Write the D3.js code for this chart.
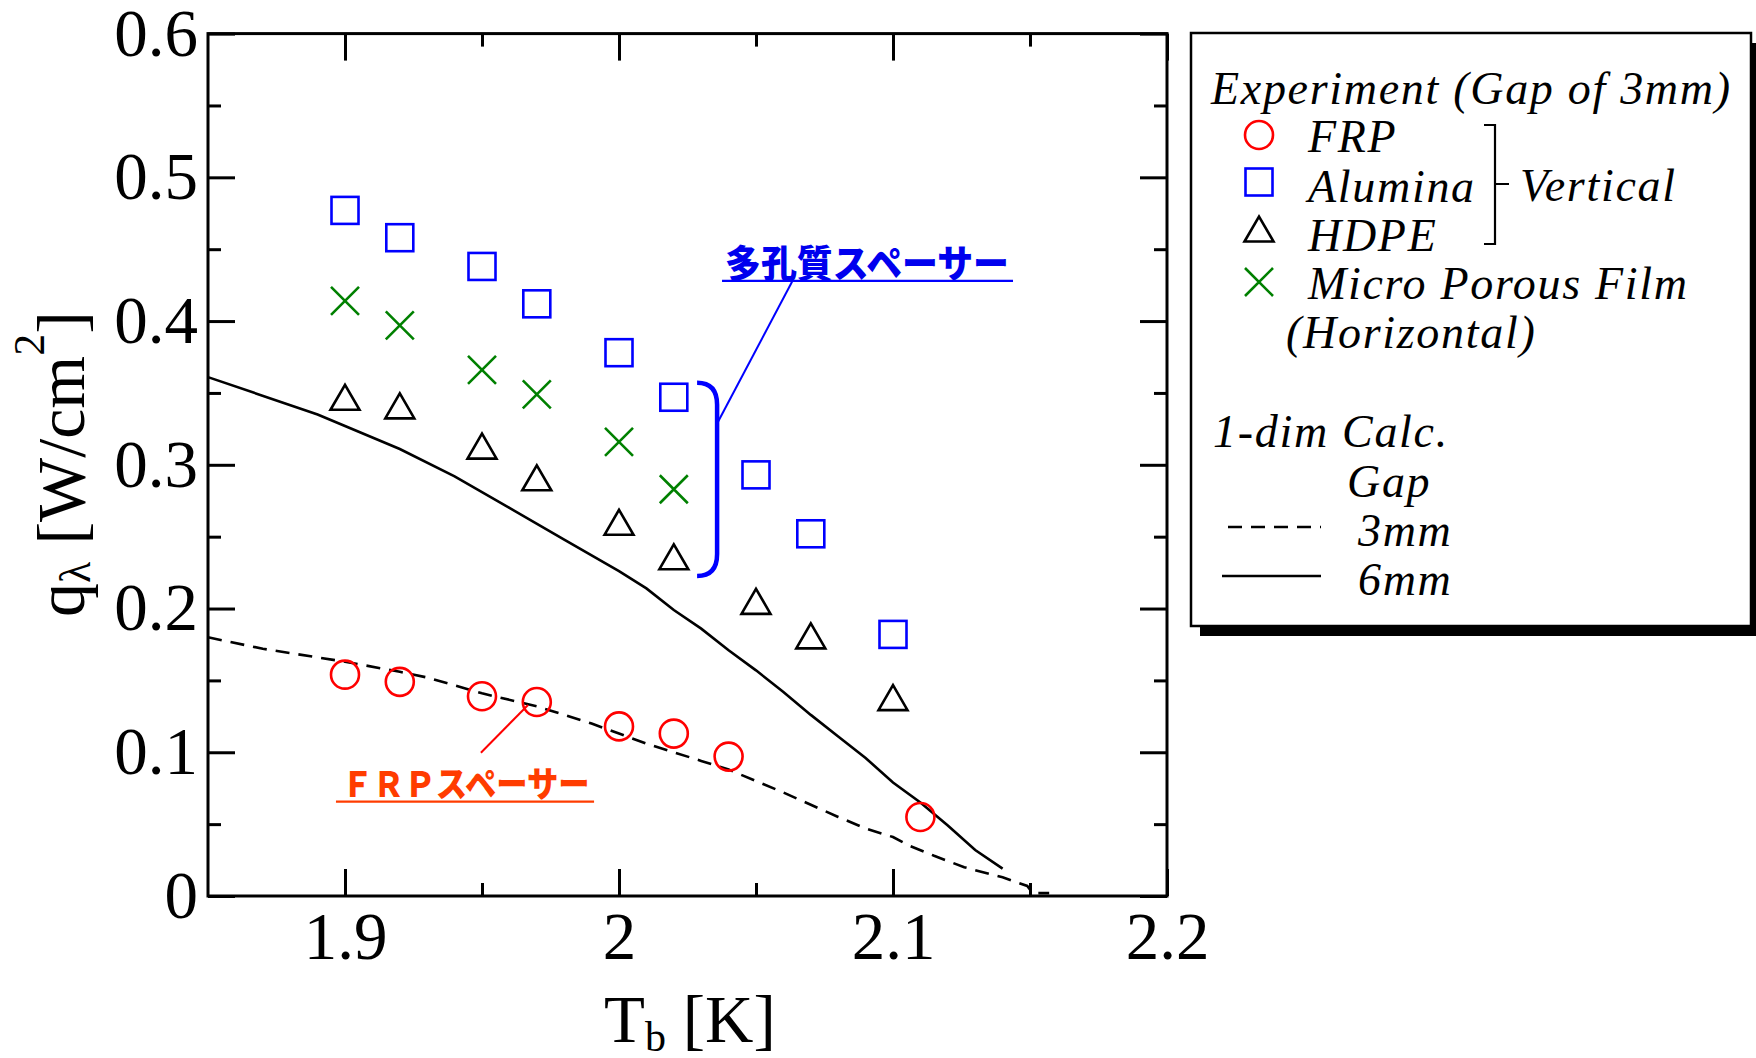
<!DOCTYPE html>
<html>
<head>
<meta charset="utf-8">
<script src="https://cdn.jsdelivr.net/npm/d3@7"></script>
<style>
  html, body { margin: 0; padding: 0; background: #fff; }
  svg { display: block; }
</style>
</head>
<body>
<svg id="chart" width="1756" height="1058"></svg>
<script>
// Peak heat flux q_lambda [W/cm^2] versus bath temperature T_b [K]

// Experiment (gap of 3 mm), vertical orientation
const tempFRP     = [1.90, 1.92, 1.95, 1.97, 2.00, 2.02, 2.04, 2.11];
const qFRP        = [0.154, 0.149, 0.139, 0.135, 0.118, 0.113, 0.097, 0.055];

const tempAlumina = [1.90, 1.92, 1.95, 1.97, 2.00, 2.02, 2.05, 2.07, 2.10];
const qAlumina    = [0.477, 0.458, 0.438, 0.412, 0.378, 0.347, 0.293, 0.252, 0.182];

const tempHDPE    = [1.90, 1.92, 1.95, 1.97, 2.00, 2.02, 2.05, 2.07, 2.10];
const qHDPE       = [0.347, 0.341, 0.313, 0.291, 0.260, 0.236, 0.205, 0.181, 0.138];

// Micro porous film, horizontal orientation
const tempFilm    = [1.90, 1.92, 1.95, 1.97, 2.00, 2.02];
const qFilm       = [0.414, 0.397, 0.366, 0.349, 0.316, 0.283];

// One-dimensional calculation, gap 3 mm
const tempCalc3 = [1.85, 1.87, 1.89, 1.90, 1.92, 1.93, 1.95, 1.97, 1.99, 2.00, 2.01, 2.03,
                   2.04, 2.05, 2.06, 2.08, 2.09, 2.10, 2.106, 2.115, 2.126, 2.14, 2.149, 2.151, 2.157];
const qCalc3    = [0.180, 0.172, 0.166, 0.163, 0.156, 0.152, 0.141, 0.132, 0.120, 0.113, 0.106, 0.094,
                   0.088, 0.080, 0.072, 0.055, 0.047, 0.041, 0.035, 0.028, 0.020, 0.013, 0.007, 0.002, 0.002];

// One-dimensional calculation, gap 6 mm
const tempCalc6 = [1.85, 1.89, 1.90, 1.92, 1.94, 1.96, 1.98, 2.00, 2.01, 2.02, 2.03, 2.04,
                   2.05, 2.06, 2.07, 2.08, 2.09, 2.10, 2.11, 2.12, 2.13, 2.14];
const qCalc6    = [0.361, 0.335, 0.327, 0.311, 0.292, 0.270, 0.248, 0.226, 0.214, 0.199, 0.186, 0.171,
                   0.157, 0.142, 0.126, 0.111, 0.096, 0.079, 0.065, 0.049, 0.032, 0.019];

// Axis ticks
const xMajorTicks = [1.9, 2.0, 2.1, 2.2];
const xMinorTicks = [1.95, 2.05, 2.15];
const yMajorTicks = [0, 0.1, 0.2, 0.3, 0.4, 0.5, 0.6];
const yMinorTicks = [0.05, 0.15, 0.25, 0.35, 0.45, 0.55];

// Labels
const legendTitle    = "Experiment (Gap of 3mm)";
const seriesNames    = ["FRP", "Alumina", "HDPE", "Micro Porous Film"];
const calcTitle      = "1-dim Calc.";
const calcNames      = ["3mm", "6mm"];
const porousLabel    = "多孔質スペーサー";
const frpLabel       = "ＦＲＰスペーサー";

const SERIF = '"Liberation Serif", "Times New Roman", Times, serif';
const CJK = '"Noto Sans CJK JP", "Noto Sans CJK SC", sans-serif';
const RED = "#ff0000", BLUE = "#0000ff", GREEN = "#008000";

const svg = d3.select("#chart");
const L = 208, R = 1167, T = 33.6, B = 896;

const x = d3.scaleLinear().domain([1.85, 2.2]).range([L, R]);
const y = d3.scaleLinear().domain([0, 0.6]).range([B, T]);

const fmt = d => String(+d.toFixed(2));

// ---- axes (inward ticks on all four sides) ----
function styleAxis(g, labels) {
  g.select(".domain").remove();
  g.selectAll(".tick line").attr("stroke", "#000").attr("stroke-width", 3);
  if (labels) {
    g.selectAll(".tick text")
      .attr("fill", "#000")
      .style("font-family", SERIF)
      .style("font-size", "67px");
  } else {
    g.selectAll(".tick text").remove();
  }
}

const MAJ = -27, MIN = -13;

svg.append("g").attr("transform", `translate(0,${B})`)
  .call(d3.axisBottom(x).tickValues(xMajorTicks).tickSizeInner(MAJ).tickSizeOuter(0)
        .tickPadding(15).tickFormat(fmt))
  .call(g => styleAxis(g, true));
svg.append("g").attr("transform", `translate(0,${B})`)
  .call(d3.axisBottom(x).tickValues(xMinorTicks).tickSizeInner(MIN).tickSizeOuter(0))
  .call(g => styleAxis(g, false));
svg.append("g").attr("transform", `translate(0,${T})`)
  .call(d3.axisTop(x).tickValues(xMajorTicks).tickSizeInner(MAJ).tickSizeOuter(0))
  .call(g => styleAxis(g, false));
svg.append("g").attr("transform", `translate(0,${T})`)
  .call(d3.axisTop(x).tickValues(xMinorTicks).tickSizeInner(MIN).tickSizeOuter(0))
  .call(g => styleAxis(g, false));

svg.append("g").attr("transform", `translate(${L},0)`)
  .call(d3.axisLeft(y).tickValues(yMajorTicks).tickSizeInner(MAJ).tickSizeOuter(0)
        .tickPadding(10).tickFormat(fmt))
  .call(g => styleAxis(g, true));
svg.append("g").attr("transform", `translate(${L},0)`)
  .call(d3.axisLeft(y).tickValues(yMinorTicks).tickSizeInner(MIN).tickSizeOuter(0))
  .call(g => styleAxis(g, false));
svg.append("g").attr("transform", `translate(${R},0)`)
  .call(d3.axisRight(y).tickValues(yMajorTicks).tickSizeInner(MAJ).tickSizeOuter(0))
  .call(g => styleAxis(g, false));
svg.append("g").attr("transform", `translate(${R},0)`)
  .call(d3.axisRight(y).tickValues(yMinorTicks).tickSizeInner(MIN).tickSizeOuter(0))
  .call(g => styleAxis(g, false));

// ---- axis titles ----
svg.append("text")
  .attr("x", 604).attr("y", 1042)
  .style("font-family", SERIF).style("font-size", "67px").attr("fill", "#000")
  .call(t => {
    t.append("tspan").text("T");
    t.append("tspan").attr("font-size", 42).attr("dy", 9).text("b");
    t.append("tspan").attr("dy", -9).text(" [K]");
  });

svg.append("text")
  .attr("transform", "translate(84,464) rotate(-90)")
  .attr("text-anchor", "middle")
  .style("font-family", SERIF).style("font-size", "68px").attr("fill", "#000")
  .call(t => {
    t.append("tspan").text("q");
    t.append("tspan").attr("font-size", 44).attr("dy", 6).text("λ");
    t.append("tspan").attr("dy", -6).text(" [W/cm");
    t.append("tspan").attr("font-size", 44).attr("dy", -40).text("2");
    t.append("tspan").attr("dy", 40).text("]");
  });

// ---- calculation curves ----
const line = d3.line().x(d => x(d[0])).y(d => y(d[1]));

svg.append("path")
  .datum(d3.zip(tempCalc3, qCalc3))
  .attr("d", line)
  .attr("fill", "none").attr("stroke", "#000").attr("stroke-width", 2.6)
  .attr("stroke-dasharray", "14,9");

svg.append("path")
  .datum(d3.zip(tempCalc6, qCalc6))
  .attr("d", line)
  .attr("fill", "none").attr("stroke", "#000").attr("stroke-width", 2.6);

// ---- marker shapes ----
function drawCircle(g, cx, cy) {
  g.append("circle").attr("cx", cx).attr("cy", cy).attr("r", 14)
    .attr("fill", "none").attr("stroke", RED).attr("stroke-width", 2.6);
}
function drawSquare(g, cx, cy) {
  const h = 13.5;
  g.append("rect").attr("x", cx - h).attr("y", cy - h).attr("width", 2 * h).attr("height", 2 * h)
    .attr("fill", "none").attr("stroke", BLUE).attr("stroke-width", 2.6);
}
function drawTriangle(g, cx, cy) {
  const w = 14.5, h = 12.5;
  g.append("path")
    .attr("d", `M${cx - w},${cy + h}L${cx},${cy - h}L${cx + w},${cy + h}Z`)
    .attr("fill", "none").attr("stroke", "#000").attr("stroke-width", 2.6)
    .attr("stroke-linejoin", "miter");
}
function drawCross(g, cx, cy) {
  const h = 14;
  g.append("path")
    .attr("d", `M${cx - h},${cy - h}L${cx + h},${cy + h}M${cx - h},${cy + h}L${cx + h},${cy - h}`)
    .attr("fill", "none").attr("stroke", GREEN).attr("stroke-width", 2.6);
}

const marks = svg.append("g");
d3.zip(tempAlumina, qAlumina).forEach(([t, q]) => drawSquare(marks, x(t), y(q)));
d3.zip(tempFilm, qFilm).forEach(([t, q]) => drawCross(marks, x(t), y(q)));
d3.zip(tempHDPE, qHDPE).forEach(([t, q]) => drawTriangle(marks, x(t), y(q)));
d3.zip(tempFRP, qFRP).forEach(([t, q]) => drawCircle(marks, x(t), y(q)));

// ---- plot frame ----
svg.append("rect")
  .attr("x", L).attr("y", T).attr("width", R - L).attr("height", B - T)
  .attr("fill", "none").attr("stroke", "#000").attr("stroke-width", 3);

// ---- annotation: porous spacers (bracket around the 2.02 K points) ----
{
  const g = svg.append("g");
  const bx0 = x(2.0285), bx1 = x(2.0358), by0 = y(0.357), by1 = y(0.2226), r = 22;
  g.append("path")
    .attr("d", `M${bx0},${by0}Q${bx1},${by0} ${bx1},${by0 + r}L${bx1},${by1 - r}Q${bx1},${by1} ${bx0},${by1}`)
    .attr("fill", "none").attr("stroke", BLUE).attr("stroke-width", 4.5);
  g.append("line")
    .attr("x1", x(2.0633)).attr("y1", y(0.4279))
    .attr("x2", x(2.0361)).attr("y2", y(0.3298))
    .attr("stroke", BLUE).attr("stroke-width", 2);
  g.append("text")
    .attr("x", x(2.0387)).attr("y", y(0.4307))
    .attr("textLength", 284).attr("lengthAdjust", "spacingAndGlyphs")
    .style("font-family", CJK).style("font-weight", 900).style("font-size", "38px")
    .attr("fill", "#0000ee").text(porousLabel);
  g.append("line")
    .attr("x1", x(2.0376)).attr("x2", x(2.1438))
    .attr("y1", y(0.4279)).attr("y2", y(0.4279))
    .attr("stroke", BLUE).attr("stroke-width", 2.2);
}

// ---- annotation: FRP spacer ----
{
  const g = svg.append("g");
  g.append("line")
    .attr("x1", x(1.9496)).attr("y1", y(0.0997))
    .attr("x2", x(1.9668)).attr("y2", y(0.1329))
    .attr("stroke", RED).attr("stroke-width", 2);
  g.append("text")
    .attr("x", x(1.8988)).attr("y", y(0.0689))
    .attr("textLength", 248).attr("lengthAdjust", "spacingAndGlyphs")
    .style("font-family", CJK).style("font-weight", 900).style("font-size", "35px")
    .attr("fill", "#ff3c00").text(frpLabel);
  g.append("line")
    .attr("x1", x(1.8967)).attr("x2", x(1.9909))
    .attr("y1", y(0.0656)).attr("y2", y(0.0656))
    .attr("stroke", "#ff3c00").attr("stroke-width", 2.2);
}

// ---- legend ----
{
  const g = svg.append("g");
  const bx = 1191, byTop = 33, bw = 560, bh = 593;
  g.append("rect").attr("x", bx + 9).attr("y", byTop + 10).attr("width", bw).attr("height", bh)
    .attr("fill", "#000");
  g.append("rect").attr("x", bx).attr("y", byTop).attr("width", bw).attr("height", bh)
    .attr("fill", "#fff").attr("stroke", "#000").attr("stroke-width", 2.5);

  const txt = (s, tx, ty) => g.append("text").attr("x", tx).attr("y", ty)
    .style("font-family", SERIF).style("font-style", "italic").style("font-size", "46px")
    .style("letter-spacing", "1.7px").attr("fill", "#000").text(s);

  txt(legendTitle, 1211, 104);
  const rows = [152, 202, 251, 299];
  const symY = [135, 182, 229, 282];
  const symX = 1259;
  seriesNames.forEach((s, i) => txt(s, 1308, rows[i]));
  drawCircle(g, symX, symY[0]);
  drawSquare(g, symX, symY[1]);
  drawTriangle(g, symX, symY[2]);
  drawCross(g, symX, symY[3]);
  txt("(Horizontal)", 1286, 348);

  // brace grouping the vertical-orientation spacers
  g.append("path")
    .attr("d", "M1484,125H1495V244H1484M1495,184H1509")
    .attr("fill", "none").attr("stroke", "#000").attr("stroke-width", 2.2);
  txt("Vertical", 1520, 201);

  txt(calcTitle, 1213, 447);
  txt("Gap", 1347, 497);
  txt(calcNames[0], 1358, 546);
  txt(calcNames[1], 1358, 595);
  g.append("line").attr("x1", 1228).attr("x2", 1321).attr("y1", 527).attr("y2", 527)
    .attr("stroke", "#000").attr("stroke-width", 2.6).attr("stroke-dasharray", "14,9");
  g.append("line").attr("x1", 1222).attr("x2", 1321).attr("y1", 576).attr("y2", 576)
    .attr("stroke", "#000").attr("stroke-width", 2.6);
}
</script>
</body>
</html>
